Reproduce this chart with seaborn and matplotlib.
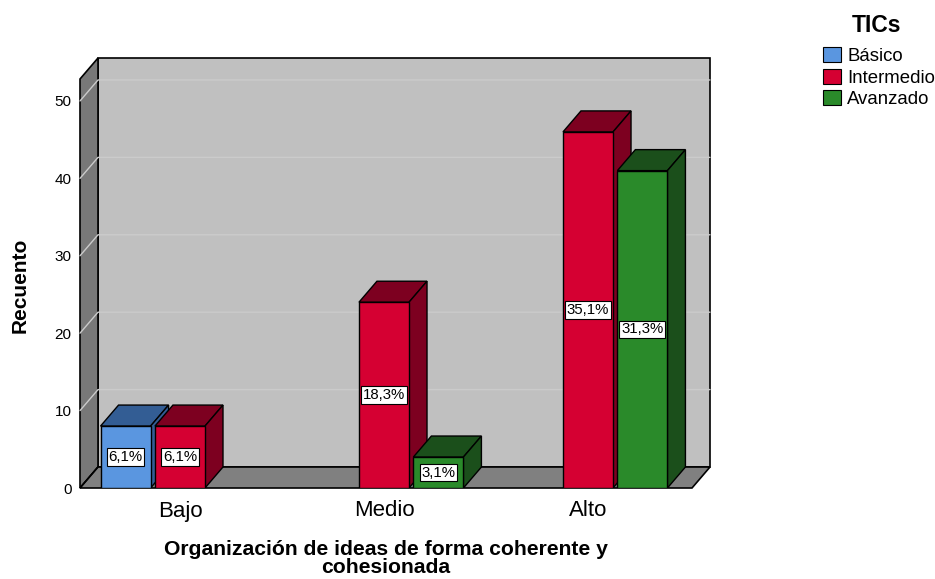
import numpy as np
import pandas as pd
import matplotlib
matplotlib.use('Agg')
import matplotlib.pyplot as plt
import seaborn as sns
from matplotlib.patches import Polygon, Patch

categories = ['Bajo', 'Medio', 'Alto']
levels = ['Básico', 'Intermedio', 'Avanzado']
basico = [8, 0, 0]
intermedio = [8, 24, 46]
avanzado = [0, 4, 41]
yticks = [0, 10, 20, 30, 40, 50]
xtitle = 'Organización de ideas de forma coherente y\ncohesionada'

face = {'Básico': '#5a96e0', 'Intermedio': '#d50032', 'Avanzado': '#2a8a2a'}
dark = {'Básico': '#335d94', 'Intermedio': '#7d0020', 'Avanzado': '#1b4f1b'}

rows = []
for lvl, vals in zip(levels, [basico, intermedio, avanzado]):
    for c, v in zip(categories, vals):
        rows.append({'cat': c, 'tic': lvl, 'n': v})
df = pd.DataFrame(rows)
total = df['n'].sum()

sns.set_style('white')
plt.rcParams['font.family'] = ['Liberation Sans', 'DejaVu Sans']
for k in ('text.color', 'axes.labelcolor', 'xtick.color', 'ytick.color'):
    plt.rcParams[k] = 'black'

W, H = 935, 579
fig = plt.figure(figsize=(W / 100, H / 100), dpi=100)
L, R, T, B = 80, 710, 58, 488
ax = fig.add_axes([L / W, 1 - B / H, (R - L) / W, (B - T) / H])

sns.barplot(data=df, x='cat', y='n', hue='tic', order=categories, hue_order=levels,
            palette=face, width=0.8, gap=0.08, edgecolor='black', linewidth=1,
            ax=ax, legend=False, saturation=1)

x0, x1 = -0.49, 2.598
Y = 55.55
ax.set_xlim(x0, x1)
ax.set_ylim(0, Y)
DX, DY = 18, 21
ux = DX * (x1 - x0) / (R - L)
uy = DY * Y / (B - T)

back = Polygon([(x0 + ux, uy), (x1, uy), (x1, Y), (x0 + ux, Y)], closed=True,
               fc='#c0c0c0', ec='black', lw=1.2, zorder=0.5, clip_on=False)
left = Polygon([(x0, 0), (x0 + ux, uy), (x0 + ux, Y), (x0, Y - uy)], closed=True,
               fc='#787878', ec='black', lw=1.2, zorder=0.6, clip_on=False)
floor = Polygon([(x0, 0), (x1 - ux, 0), (x1, uy), (x0 + ux, uy)], closed=True,
                fc='#808080', ec='black', lw=1.2, zorder=0.6, clip_on=False)
for p in (back, left, floor):
    ax.add_patch(p)
for v in yticks[1:]:
    ax.plot([x0, x0 + ux, x1], [v, v + uy, v + uy], color='#cbcbcb', lw=1,
            zorder=0.7, clip_on=False)
ax.plot([x0, x0 + ux], [0, uy], color='black', lw=1, zorder=0.8)

bars = []
for lvl, cont in zip(levels, ax.containers):
    for p in cont.patches:
        if p.get_height() > 0:
            bars.append((p, lvl))
        else:
            p.set_visible(False)
bars.sort(key=lambda t: t[0].get_x())
for i, (p, lvl) in enumerate(bars):
    x, w, h = p.get_x(), p.get_width(), p.get_height()
    p.set_zorder(3)
    top = Polygon([(x, h), (x + w, h), (x + w + ux, h + uy), (x + ux, h + uy)],
                  closed=True, fc=dark[lvl], ec='black', lw=1, zorder=2 + 0.01 * i)
    side = Polygon([(x + w, 0), (x + w, h), (x + w + ux, h + uy), (x + w + ux, uy)],
                   closed=True, fc=dark[lvl], ec='black', lw=1, zorder=2 + 0.01 * i)
    ax.add_patch(top)
    ax.add_patch(side)
    pct = f"{100 * h / total:.1f}%".replace('.', ',')
    ax.text(x + w / 2, h / 2, pct, ha='center', va='center', fontsize=10.8, zorder=4,
            bbox=dict(boxstyle='square,pad=0.12', fc='white', ec='black', lw=0.8))

for s in ax.spines.values():
    s.set_visible(False)
ax.patch.set_visible(False)
ax.grid(False)
ax.set_yticks(yticks)
ax.set_yticklabels([str(v) for v in yticks], fontsize=11)
ax.tick_params(axis='y', length=0, pad=6)
ax.tick_params(axis='x', length=0, pad=9, labelsize=16)
ax.set_xlabel('')
ax.set_ylabel('')

fig.text(386 / W, 1 - 577 / H, xtitle, ha='center', va='bottom', fontsize=15.2,
         fontweight='bold', linespacing=0.92, multialignment='center')
fig.text(20 / W, 1 - 285 / H, 'Recuento', rotation=90, ha='center', va='center',
         fontsize=15, fontweight='bold')

fig.text(877 / W, 1 - 25 / H, 'TICs', ha='center', va='center', fontsize=16.5,
         fontweight='bold')
handles = [Patch(fc=face[l], ec='black', lw=0.8) for l in levels]
leg = fig.legend(handles, levels, loc='upper left', bbox_to_anchor=(823 / W, 1 - 47 / H),
                 frameon=False, fontsize=13.4, handlelength=0.97,
                 handleheight=0.86, labelspacing=0.2, handletextpad=0.32,
                 borderaxespad=0, borderpad=0)

fig.savefig('out.png', dpi=100)
